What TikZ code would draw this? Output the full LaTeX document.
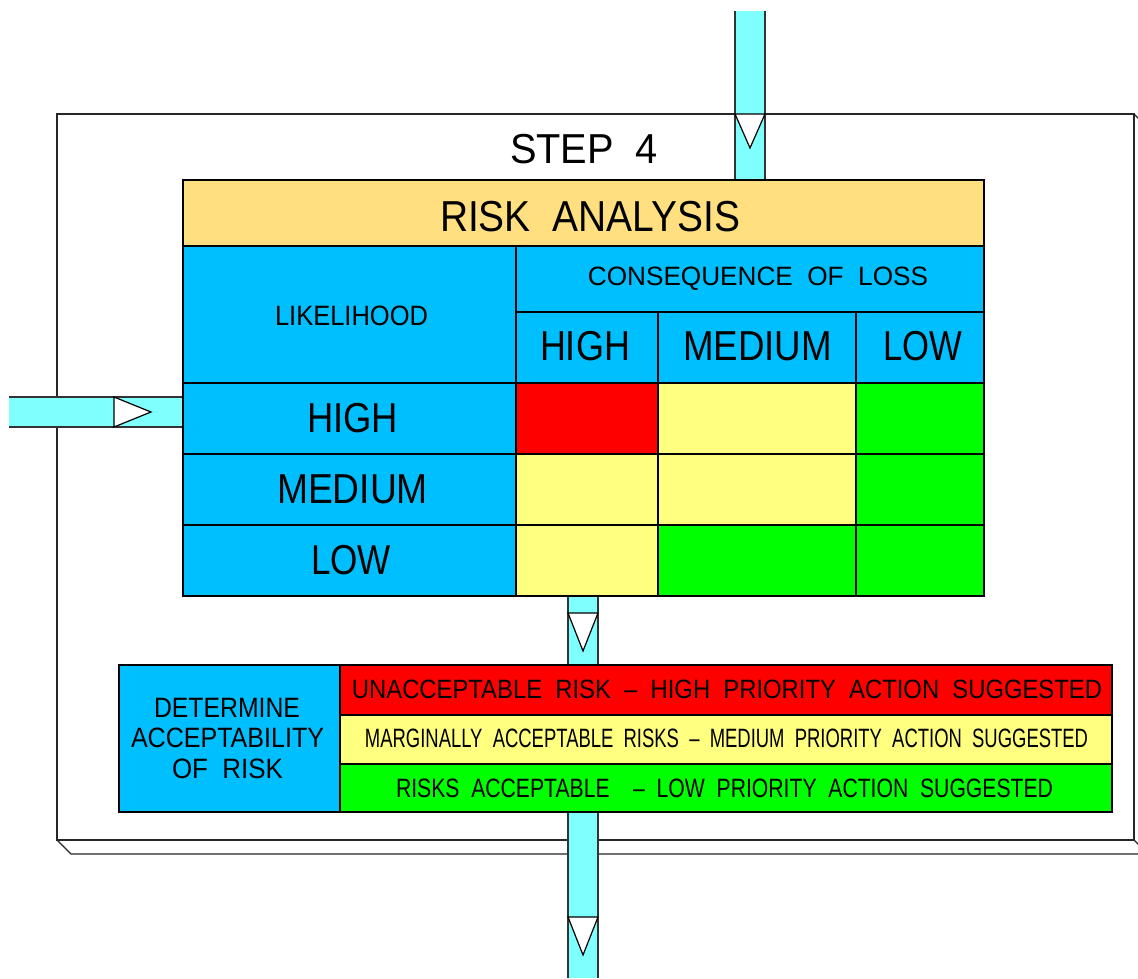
\documentclass[tikz,border=0pt]{standalone}
\usepackage{fontspec}
\setmainfont{Liberation Sans}[WordSpace=2]
\newdimen\pxu \pxu=0.75pt
\newcommand\T[3]{\resizebox{#1\pxu}{\height}{\fontsize{#2}{#2}\selectfont #3}}
\definecolor{hdr}{RGB}{255,223,128}
\definecolor{cellblue}{RGB}{0,191,255}
\definecolor{pipec}{RGB}{128,255,255}
\definecolor{rred}{RGB}{255,0,0}
\definecolor{ryel}{RGB}{255,255,128}
\definecolor{rgrn}{RGB}{0,255,0}
\tikzset{
  cell/.style={draw=black, line width=0.8pt},
  txt/.style={anchor=base, inner sep=0pt},
  pipefill/.style={fill=pipec},
  pipeedge/.style={draw=black!80, line width=1pt},
  tri/.style={fill=white, draw=black, line width=0.9pt, line join=miter},
  boxline/.style={draw=black!85, line width=1pt},
}
\begin{document}
\begin{tikzpicture}[x=0.75pt,y=-0.75pt]
\useasboundingbox (0,0) rectangle (1138,978);
\clip (0,0) rectangle (1138,978);
\fill[white] (0,0) rectangle (1138,978);
% outer 3D box
\draw[boxline] (57,114) rectangle (1134,840);
\draw[boxline] (1134,114) -- (1148,128) -- (1148,854) -- (71,854) -- (57,840);
\draw[boxline] (1134,840) -- (1148,854);
% top pipe
\fill[pipefill] (735,11) rectangle (765,180);
\draw[pipeedge] (735,11) -- (735,180) (765,11) -- (765,180);
\draw[tri] (735,114) -- (765,114) -- (750,148) -- cycle;
% left pipe
\fill[pipefill] (9,397) rectangle (183,427);
\draw[pipeedge] (9,397) -- (183,397) (9,427) -- (183,427);
\draw[tri] (114,397) -- (114,427) -- (151,412) -- cycle;
% middle pipe
\fill[pipefill] (568,596) rectangle (598,665);
\draw[pipeedge] (568,596) -- (568,665) (598,596) -- (598,665);
\draw[tri] (568,613) -- (598,613) -- (583,651) -- cycle;
% bottom pipe
\fill[pipefill] (568,812) rectangle (598,978);
\draw[pipeedge] (568,812) -- (568,978) (598,812) -- (598,978);
\draw[tri] (568,917) -- (598,917) -- (583,955) -- cycle;
% step title
\node[txt] (step) at (584,163) {\T{148}{31.4}{STEP 4}};
% header
\fill[hdr] (183,180) rectangle (984,246);
\draw[cell] (183,180) rectangle (984,246);
\node[txt] (ra) at (590,231) {\T{300}{32.5}{RISK ANALYSIS}};
% blue area
\fill[cellblue] (183,246) rectangle (984,596);
% matrix cells
\fill[rred] (516,383) rectangle (658,454);
\fill[ryel] (658,383) rectangle (856,454);
\fill[rgrn] (856,383) rectangle (984,454);
\fill[ryel] (516,454) rectangle (658,525);
\fill[ryel] (658,454) rectangle (856,525);
\fill[rgrn] (856,454) rectangle (984,525);
\fill[ryel] (516,525) rectangle (658,596);
\fill[rgrn] (658,525) rectangle (856,596);
\fill[rgrn] (856,525) rectangle (984,596);
\draw[cell] (183,246) rectangle (984,596);
\draw[cell] (516,246) -- (516,596);
\draw[cell] (516,312) -- (984,312);
\draw[cell] (658,312) -- (658,596) (856,312) -- (856,596);
\draw[cell] (183,383) -- (984,383) (183,454) -- (984,454) (183,525) -- (984,525);
\draw[line width=1.6pt] (183,246) -- (984,246);
\node[txt] (col) at (758,285) {\T{340}{19.9}{CONSEQUENCE OF LOSS}};
\node[txt] (lik) at (351.5,325) {\T{153}{21}{LIKELIHOOD}};
\node[txt] (ch) at (585,360) {\T{90}{31.4}{HIGH}};
\node[txt] (cm) at (757.5,360) {\T{149}{31.4}{MEDIUM}};
\node[txt] (cl) at (922.5,360) {\T{79}{31.4}{LOW}};
\node[txt] (rh) at (352.5,432) {\T{91}{31.4}{HIGH}};
\node[txt] (rm) at (352.5,503) {\T{151}{31.4}{MEDIUM}};
\node[txt] (rl) at (351,574) {\T{80}{31.4}{LOW}};
% acceptability
\fill[cellblue] (119,665) rectangle (340,812);
\fill[rred] (340,665) rectangle (1112,715);
\fill[ryel] (340,715) rectangle (1112,764);
\fill[rgrn] (340,764) rectangle (1112,812);
\draw[cell] (119,665) rectangle (1112,812);
\draw[cell] (340,665) -- (340,812) (340,715) -- (1112,715) (340,764) -- (1112,764);
\node[txt] (d1) at (227,717) {\T{146}{21}{DETERMINE}};
\node[txt] (d2) at (227.5,747) {\T{193}{21}{ACCEPTABILITY}};
\node[txt] (d3) at (227.5,778) {\T{111}{21}{OF RISK}};
\node[txt] (a1) at (727,698) {\T{750}{19.9}{UNACCEPTABLE RISK -- HIGH PRIORITY ACTION SUGGESTED}};
\node[txt] (a2) at (726.5,747) {\T{723}{19.9}{MARGINALLY ACCEPTABLE RISKS -- MEDIUM PRIORITY ACTION SUGGESTED}};
\node[txt] (a3) at (724.5,797) {\T{657}{19.9}{RISKS ACCEPTABLE\ \ -- LOW PRIORITY ACTION SUGGESTED}};
\end{tikzpicture}
\end{document}
